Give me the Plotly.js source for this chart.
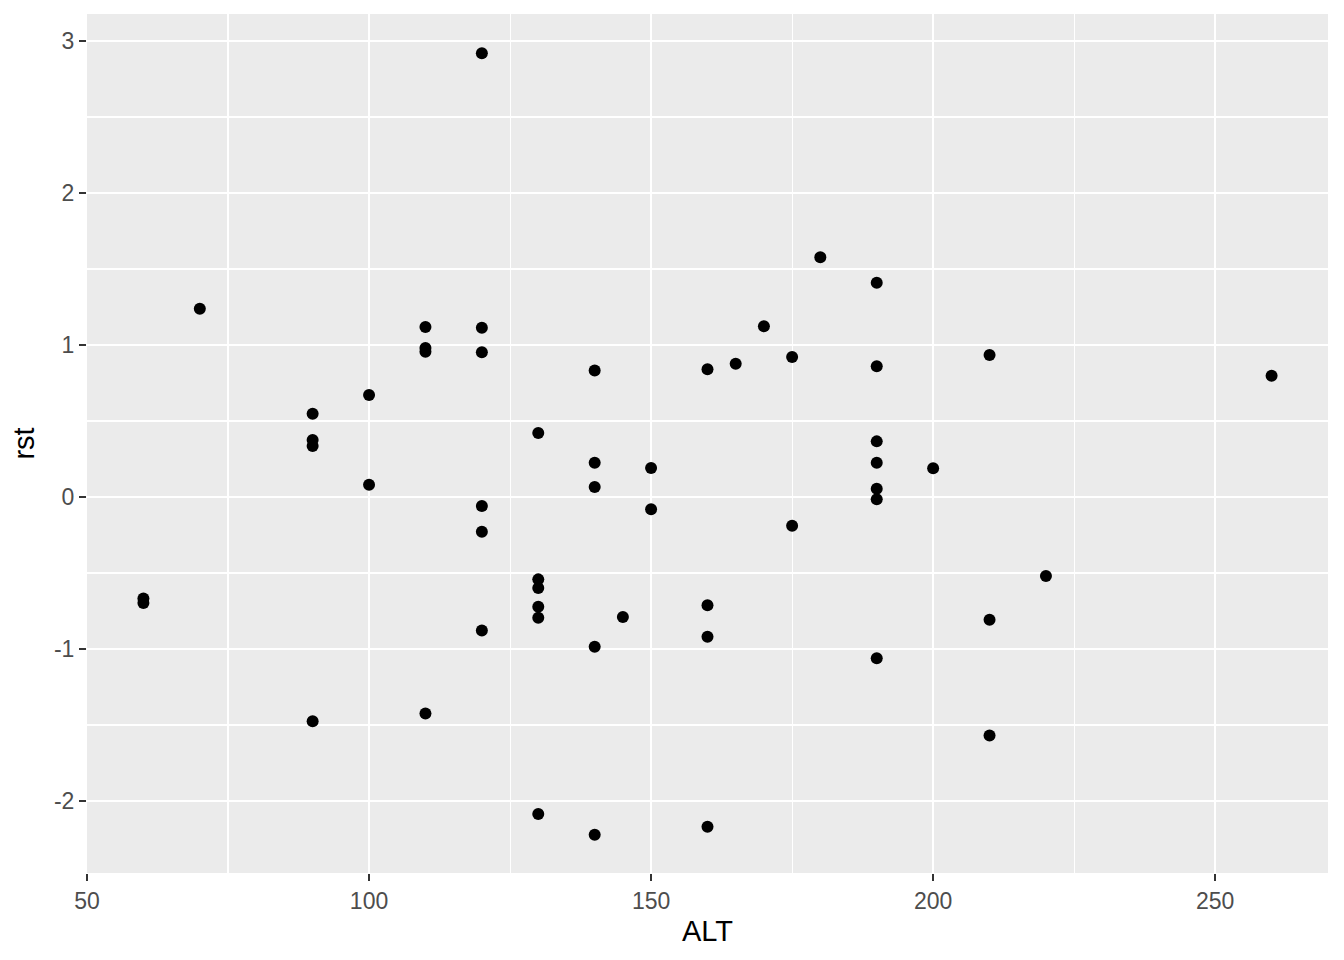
<!DOCTYPE html>
<html>
<head>
<meta charset="utf-8">
<script src="https://cdn.plot.ly/plotly-3.0.1.min.js"></script>
<style>html,body{margin:0;padding:0;background:#fff;}#chart{width:1344px;height:960px;}</style>
</head>
<body>
<div id="chart"></div>
<script>
const ALT = [60,60,70,90,90,90,90,100,100,110,110,110,110,
  120,120,120,120,120,120,130,130,130,130,130,130,
  140,140,140,140,140,145,150,150,160,160,160,160,
  165,170,175,175,180,190,190,190,190,190,190,190,
  200,210,210,210,220,260];
const rst = [-0.668,-0.697,1.239,0.548,0.375,0.336,-1.476,0.671,0.081,1.118,0.98,0.956,-1.425,
  2.92,1.114,0.952,-0.059,-0.228,-0.879,0.421,-0.542,-0.599,-0.722,-0.794,-2.086,
  0.833,0.226,0.066,-0.985,-2.222,-0.789,0.191,-0.081,0.84,-0.713,-0.919,-2.169,
  0.877,1.123,0.921,-0.189,1.577,1.41,0.86,0.366,0.226,0.055,-0.015,-1.061,
  0.189,0.934,-0.807,-1.570,-0.52,0.798];
const xTicks = [50,100,150,200,250];
const yTicks = [-2,-1,0,1,2,3];

const trace = {
  type: 'scatter', mode: 'markers', x: ALT, y: rst,
  marker: {color: '#000000', size: 12, line: {width: 0}},
  hoverinfo: 'x+y'
};

const axisCommon = {
  showline: false, zeroline: false,
  gridcolor: '#FFFFFF', gridwidth: 2.2,
  ticks: 'outside', ticklen: 7, tickwidth: 2.2, tickcolor: '#333333',
  tickfont: {family: 'Liberation Sans, Arial, sans-serif', size: 23, color: '#4D4D4D'},
  minor: {showgrid: true, gridcolor: '#FFFFFF', gridwidth: 1.1, ticks: ''}
};

const layout = {
  width: 1344, height: 960,
  paper_bgcolor: '#FFFFFF', plot_bgcolor: '#EBEBEB',
  margin: {l: 87, r: 16, t: 14, b: 87},
  showlegend: false,
  xaxis: Object.assign({}, axisCommon, {
    range: [50, 270], tickmode: 'array', tickvals: xTicks, ticktext: xTicks.map(String),
    minor: Object.assign({}, axisCommon.minor, {tickmode: 'array', tickvals: [75,125,175,225]}),
    title: {text: 'ALT', font: {family: 'Liberation Sans, Arial, sans-serif', size: 29, color: '#000000'}, standoff: 8}
  }),
  yaxis: Object.assign({}, axisCommon, {
    range: [-2.474, 3.178], tickmode: 'array', tickvals: yTicks, ticktext: yTicks.map(String),
    minor: Object.assign({}, axisCommon.minor, {tickmode: 'array', tickvals: [-2.5,-1.5,-0.5,0.5,1.5,2.5]}),
    title: {text: 'rst', font: {family: 'Liberation Sans, Arial, sans-serif', size: 29, color: '#000000'}, standoff: 10}
  }),
  font: {family: 'Liberation Sans, Arial, sans-serif'}
};

Plotly.newPlot('chart', [trace], layout, {displayModeBar: false, staticPlot: true});
</script>
</body>
</html>
